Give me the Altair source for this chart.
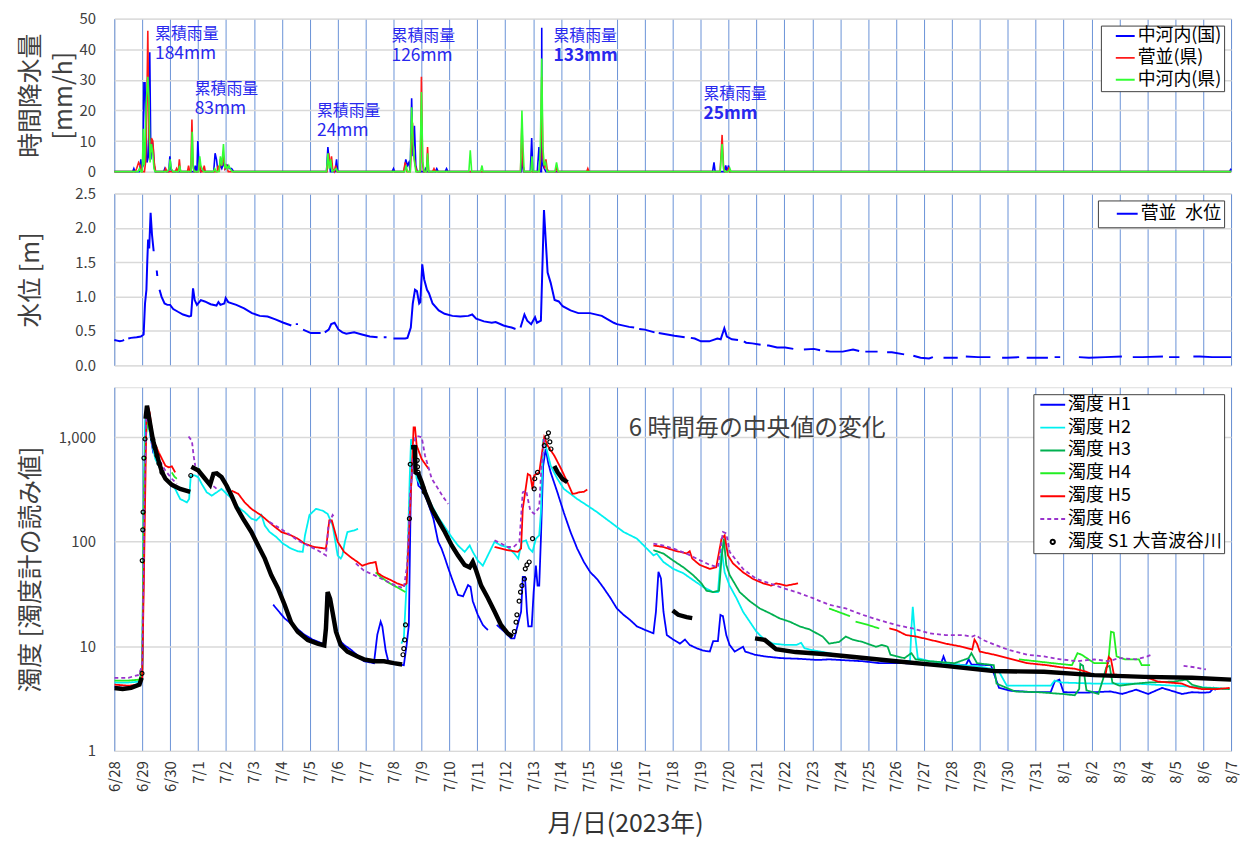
import altair as alt
import pandas as pd

FONT = "Noto Sans CJK JP"

DAY_LABELS = ["6/28", "6/29", "6/30",
              "7/1", "7/2", "7/3", "7/4", "7/5", "7/6", "7/7", "7/8", "7/9", "7/10",
              "7/11", "7/12", "7/13", "7/14", "7/15", "7/16", "7/17", "7/18", "7/19", "7/20",
              "7/21", "7/22", "7/23", "7/24", "7/25", "7/26", "7/27", "7/28", "7/29", "7/30", "7/31",
              "8/1", "8/2", "8/3", "8/4", "8/5", "8/6", "8/7"]
DAY_TICKS = list(range(len(DAY_LABELS)))

# ---------------- rainfall (t = days since 6/28 0:00, mm/h) ----------------
RAIN_NAMES = ["中河内(国)", "菅並(県)", "中河内(県)"]
RAIN_COLORS = ["#0000FF", "#FF1A1A", "#33FF33"]

RAIN_KUNI = [
    (0.00, 0), (0.66, 0), (0.70, 1), (0.74, 0), (0.90, 0), (0.95, 4), (0.99, 1), (1.03, 2),
    (1.06, 29), (1.10, 29), (1.13, 15), (1.17, 3), (1.22, 5), (1.27, 39), (1.31, 4), (1.35, 10),
    (1.39, 8), (1.43, 2), (1.47, 0), (1.77, 0), (1.81, 1), (1.85, 0), (1.95, 0), (1.99, 5),
    (2.03, 1), (2.08, 0), (2.86, 0), (2.90, 2), (2.94, 0), (2.96, 0), (2.99, 10), (3.03, 3),
    (3.06, 1), (3.10, 0), (3.20, 1), (3.25, 0), (3.56, 0), (3.61, 6), (3.66, 4), (3.70, 1),
    (3.75, 1), (3.80, 2), (3.85, 1), (3.92, 3), (3.97, 1), (4.05, 2), (4.12, 1), (4.20, 1),
    (4.28, 0), (7.60, 0), (7.65, 8), (7.70, 3), (7.74, 0), (7.91, 0), (7.96, 4), (8.00, 0),
    (9.95, 0), (10.00, 1), (10.04, 0), (10.38, 0), (10.44, 4), (10.50, 2), (10.55, 3),
    (10.60, 0), (10.65, 24), (10.70, 5), (10.75, 15), (10.80, 2), (10.85, 0), (11.10, 0),
    (11.15, 1), (11.20, 0), (11.50, 0), (11.55, 1), (11.60, 0), (11.85, 0), (11.90, 1),
    (11.95, 0), (14.58, 0), (14.62, 5), (14.66, 0), (14.90, 0), (14.95, 11), (14.99, 0),
    (15.15, 0), (15.21, 8), (15.26, 0), (15.30, 0), (15.31, 47), (15.32, 3), (15.40, 1),
    (15.46, 0), (21.43, 0), (21.48, 3), (21.52, 0), (21.85, 0), (21.90, 2), (21.95, 0),
    (22.00, 2), (22.04, 0), (39.95, 0), (40.00, 1)]

RAIN_SUGANAMI = [
    (0.00, 0), (0.75, 0), (0.80, 1), (0.87, 3), (0.93, 2), (0.98, 0), (1.08, 0), (1.12, 3),
    (1.16, 18), (1.20, 46), (1.24, 12), (1.28, 4), (1.33, 11), (1.38, 10), (1.43, 3), (1.48, 0),
    (1.80, 0), (1.84, 1), (1.88, 0), (2.18, 0), (2.23, 1), (2.27, 0), (2.29, 0), (2.33, 4),
    (2.37, 0), (2.62, 0), (2.66, 2), (2.70, 0), (2.74, 0), (2.78, 17), (2.82, 2), (2.86, 0),
    (3.02, 0), (3.06, 4), (3.10, 0), (3.18, 0), (3.22, 2), (3.26, 0), (3.68, 0), (3.72, 2),
    (3.76, 0), (3.80, 4), (3.85, 2), (3.91, 5), (3.96, 1), (4.02, 2), (4.08, 0), (7.62, 0),
    (7.68, 6), (7.72, 2), (7.78, 5), (7.82, 1), (7.88, 0), (7.93, 2), (7.97, 0), (10.36, 0),
    (10.42, 3), (10.48, 0), (10.60, 0), (10.68, 16), (10.72, 6), (10.78, 2), (10.84, 0),
    (10.96, 0), (11.00, 31), (11.04, 3), (11.08, 0), (11.18, 0), (11.22, 8), (11.26, 0),
    (11.40, 0), (11.45, 1), (11.50, 0), (14.55, 0), (14.60, 16), (14.64, 2), (14.68, 0),
    (15.22, 0), (15.27, 4), (15.31, 31), (15.35, 5), (15.42, 1), (15.46, 4), (15.50, 1),
    (15.55, 0), (15.80, 0), (15.84, 2), (15.88, 0), (16.92, 0), (16.96, 1), (17.00, 0),
    (21.70, 0), (21.77, 12), (21.82, 2), (21.86, 0), (21.96, 0), (22.00, 1), (22.04, 0),
    (40.00, 0)]

RAIN_KEN = [
    (0.00, 0), (0.85, 0), (0.90, 1), (0.95, 0), (1.00, 0), (1.04, 14), (1.07, 2), (1.10, 6),
    (1.14, 22), (1.20, 31), (1.24, 24), (1.28, 3), (1.33, 9), (1.38, 6), (1.42, 1), (1.46, 0),
    (1.90, 0), (1.96, 1), (2.00, 4), (2.04, 1), (2.10, 0), (2.30, 0), (2.34, 2), (2.38, 0),
    (2.74, 0), (2.79, 13), (2.83, 1), (2.87, 0), (3.02, 0), (3.06, 5), (3.10, 2), (3.14, 1),
    (3.20, 0), (3.55, 0), (3.60, 1), (3.65, 0), (3.75, 0), (3.80, 5), (3.85, 2), (3.91, 9),
    (3.96, 1), (4.00, 2), (4.05, 1), (4.10, 2), (4.15, 1), (4.22, 0), (7.60, 0), (7.65, 6),
    (7.70, 1), (7.75, 4), (7.80, 0), (7.95, 1), (7.99, 0), (10.40, 0), (10.45, 2), (10.50, 0),
    (10.60, 0), (10.65, 21), (10.70, 10), (10.74, 4), (10.80, 0), (10.95, 0), (11.00, 26),
    (11.05, 3), (11.10, 0), (11.18, 0), (11.22, 6), (11.26, 0), (12.70, 0), (12.75, 7),
    (12.80, 0), (13.12, 0), (13.17, 2), (13.21, 0), (14.55, 0), (14.60, 20), (14.64, 8),
    (14.68, 0), (14.92, 0), (14.96, 5), (15.00, 0), (15.22, 0), (15.26, 8), (15.31, 37),
    (15.35, 8), (15.40, 2), (15.45, 3), (15.50, 0), (15.78, 0), (15.84, 3), (15.90, 0),
    (21.70, 0), (21.77, 9), (21.82, 1), (21.86, 0), (22.00, 0), (22.05, 1), (22.09, 0),
    (40.00, 0)]

NOTE_HEAD = "累積雨量"
NOTE_T = [1.46, 2.88, 7.26, 9.93, 15.73, 21.10]
NOTE_V = [47.6, 29.5, 22.3, 47.0, 47.0, 27.8]
NOTE_AMOUNT = ["184mm", "83mm", "24mm", "126mm", "133mm", "25mm"]
NOTE_BOLD = [False, False, False, False, True, True]

# ---------------- water level (m) ----------------
WATER_NAME = "菅並\u2002水位"
WATER = [
    (0.00, 0.37), (0.10, 0.36), (0.20, 0.35), (0.30, 0.36), (0.35, 0.37), (0.42, None),
    (0.50, 0.39), (0.60, 0.40), (0.80, 0.41), (0.95, 0.42), (1.05, 0.45), (1.10, 0.90),
    (1.15, 1.10), (1.18, 1.50), (1.21, 1.83), (1.25, 1.70), (1.30, 2.22), (1.35, 1.90),
    (1.41, 1.66), (1.45, None), (1.52, 1.38), (1.54, 1.30), (1.57, None), (1.62, 1.10),
    (1.69, 1.00), (1.80, 0.90), (1.90, 0.88), (2.00, 0.88), (2.11, 0.82), (2.28, 0.78),
    (2.46, 0.74), (2.68, 0.71), (2.75, 0.72), (2.82, 1.12), (2.88, 0.95), (2.96, 0.88),
    (3.10, 0.95), (3.24, 0.93), (3.45, 0.89), (3.66, 0.87), (3.73, 0.92), (3.80, 0.88),
    (3.94, 0.90), (3.99, 0.98), (4.08, 0.92), (4.37, 0.88), (4.65, 0.83), (4.93, 0.76),
    (5.21, 0.72), (5.49, 0.71), (5.77, 0.67), (6.06, 0.62), (6.34, 0.58), (6.42, None),
    (6.50, 0.60), (6.58, 0.60), (6.65, None), (6.76, 0.52), (7.04, 0.47), (7.39, 0.47),
    (7.47, None), (7.54, 0.48), (7.68, 0.52), (7.77, 0.60), (7.89, 0.62), (8.03, 0.52),
    (8.17, 0.48), (8.31, 0.46), (8.59, 0.48), (8.87, 0.45), (9.15, 0.42), (9.43, 0.41),
    (9.55, None), (9.65, 0.41), (9.75, 0.41), (9.85, None), (10.00, 0.39), (10.42, 0.39),
    (10.50, 0.40), (10.62, 0.55), (10.69, 0.90), (10.77, 1.10), (10.84, 1.08), (10.92, 0.90),
    (10.96, 0.92), (11.03, 1.47), (11.10, 1.25), (11.20, 1.10), (11.27, 1.05), (11.40, 0.90),
    (11.62, 0.80), (11.83, 0.75), (12.11, 0.72), (12.39, 0.71), (12.68, 0.72), (12.82, 0.74),
    (12.96, 0.68), (13.24, 0.64), (13.52, 0.62), (13.66, 0.63), (13.94, 0.58), (14.23, 0.55),
    (14.37, 0.53), (14.45, None), (14.55, 0.55), (14.69, 0.74), (14.79, 0.65), (14.93, 0.60),
    (15.07, 0.70), (15.14, 0.62), (15.28, 0.65), (15.39, 2.26), (15.52, 1.35), (15.63, 1.20),
    (15.77, 0.95), (15.92, 0.93), (16.06, 0.86), (16.34, 0.80), (16.62, 0.76), (17.04, 0.76),
    (17.46, 0.72), (17.89, 0.62), (18.00, 0.60), (18.44, 0.56), (18.62, 0.55), (18.70, None),
    (18.80, 0.53), (19.00, 0.52), (19.35, 0.48), (19.42, None), (19.50, 0.47), (20.06, 0.43),
    (20.43, 0.41), (20.55, None), (20.65, 0.40), (20.79, 0.39), (21.01, 0.35), (21.31, 0.35),
    (21.60, 0.39), (21.72, 0.38), (21.85, 0.54), (21.94, 0.42), (22.12, 0.38), (22.34, 0.37),
    (22.45, None), (22.55, 0.35), (22.63, 0.33), (22.85, 0.32), (23.15, 0.30), (23.25, None),
    (23.38, 0.29), (23.44, 0.29), (23.74, 0.26), (24.03, 0.26), (24.32, 0.24), (24.55, None),
    (24.70, 0.23), (25.06, 0.24), (25.28, 0.22), (25.38, None), (25.48, 0.21), (25.65, 0.20),
    (26.09, 0.20), (26.46, 0.23), (26.68, 0.21), (26.80, None), (26.90, 0.20), (26.97, 0.20),
    (27.34, 0.20), (27.55, None), (27.68, 0.19), (27.85, 0.19), (28.29, 0.16), (28.50, None),
    (28.62, 0.14), (28.88, 0.11), (29.18, 0.10), (29.32, 0.12), (29.50, None), (29.70, 0.11),
    (29.76, 0.11), (30.21, 0.11), (30.38, None), (30.50, 0.13), (30.94, 0.12), (31.38, 0.12),
    (31.65, None), (31.80, 0.11), (31.97, 0.11), (32.41, 0.12), (32.55, None), (32.68, 0.11),
    (33.00, 0.11), (33.44, 0.11), (33.55, None), (33.68, 0.12), (33.88, 0.12), (34.40, None),
    (34.55, 0.12), (34.91, 0.11), (35.50, 0.12), (36.09, 0.13), (36.35, None), (36.48, 0.12),
    (36.82, 0.12), (37.56, 0.13), (37.65, None), (37.78, 0.12), (38.15, 0.12), (38.55, None),
    (38.65, 0.13), (38.88, 0.13), (39.32, 0.12), (39.91, 0.12), (40.00, 0.12)]

# ---------------- turbidity (6-hour medians) ----------------
TURB_NAMES = ["濁度 H1", "濁度 H2", "濁度 H3", "濁度 H4", "濁度 H5", "濁度 H6", "濁度 S1 大音波谷川"]
TURB_COLORS = ["#0000FF", "#00F0F0", "#00B050", "#22EE22", "#FF0000", "#9933CC", "#000000"]

H1 = [
    (0.00, 4.1), (0.30, 4.0), (0.60, 4.1), (0.90, 4.3), (1.00, 5.0), (1.05, 60), (1.10, 900),
    (1.15, 1600), (1.20, 1500), (1.30, 1000), (1.40, 700), (1.50, None),
    (5.69, 25), (6.10, 18.5), (6.45, 15.5), (6.81, 12.9), (7.10, 11.6), (7.46, 10.6), (7.55, 10.3),
    (7.60, 29.7), (7.70, 29), (7.82, 19.7), (8.00, 11.9), (8.23, 10.3), (8.47, 9.3), (8.71, 8.2),
    (8.94, 7.2), (9.30, 6.9), (9.42, 12.9), (9.54, 17.2), (9.60, 15.5), (9.72, 9.1), (9.83, 6.9),
    (10.13, 6.7), (10.37, 6.6), (10.47, 10.3), (10.55, 16), (10.62, 300), (10.70, 700),
    (10.80, 500), (10.89, 344), (11.01, 320), (11.20, 250), (11.43, 166), (11.60, 100),
    (11.72, 86), (11.84, 70), (11.96, 56), (12.14, 41), (12.31, 31), (12.49, 30), (12.67, 38.5),
    (12.76, 37), (12.84, 27), (13.02, 20), (13.20, 16), (13.38, 14.3), (13.50, None),
    (13.70, 16), (13.97, 13.8), (14.21, 11.9), (14.33, 11.9), (14.45, 16), (14.57, 21.4),
    (14.63, 46), (14.71, 46), (14.78, 21.4), (14.83, 15.5), (14.95, 15.5), (15.02, 33),
    (15.10, 59), (15.16, 38), (15.22, 38), (15.28, 107), (15.36, 530), (15.45, 770),
    (15.54, 570), (15.63, 460), (15.87, 297), (16.10, 190), (16.34, 124), (16.58, 86),
    (16.82, 64), (17.05, 51), (17.29, 44), (17.53, 36), (17.77, 29), (18.00, 23), (18.24, 20),
    (18.48, 17.8), (18.72, 15.5), (19.02, 14.3), (19.31, 13.3), (19.40, 21.4), (19.49, 51.5),
    (19.58, 44.5), (19.67, 21.4), (19.79, 12.8), (20.02, 11.6), (20.26, 10.6), (20.44, 11.6),
    (20.61, 10.3), (20.85, 9.6), (21.09, 9.1), (21.33, 8.9), (21.45, 11.2), (21.62, 11.2),
    (21.71, 20), (21.80, 19.4), (21.92, 12.8), (22.04, 10.3), (22.22, 8.9), (22.52, 9.9),
    (22.60, 8.9), (22.95, 8.3), (23.30, 8.0), (23.90, 7.7), (24.50, 7.6), (25.20, 7.4),
    (25.60, 7.5), (26.80, 7.2), (27.40, 6.9), (28.30, 6.9), (29.10, 6.7), (29.60, 6.7),
    (29.70, 8.0), (29.80, 6.8), (30.50, 6.6), (30.60, 7.5), (30.70, 6.7), (31.40, 6.6),
    (31.62, 4.5), (31.69, 4.0), (32.10, 3.76), (32.97, 3.64), (33.54, 3.64), (33.68, 4.58),
    (33.85, 4.8), (34.00, 3.64), (34.82, 3.6), (35.10, 3.64), (35.68, 3.7), (36.10, 3.5),
    (36.60, 3.85), (37.03, 3.5), (37.53, 4.0), (37.95, 3.7), (38.24, 3.5), (38.60, 3.64),
    (39.02, 3.6), (39.24, 3.64), (39.38, 4.0), (39.45, 3.8)]

H2 = [
    (0.00, 4.5), (0.50, 4.5), (0.90, 4.6), (1.00, 6), (1.05, 200), (1.10, 1400), (1.12, 1660),
    (1.20, 1500), (1.30, 1000), (1.47, 617), (1.71, 460), (1.95, 370), (2.18, 320), (2.36, 256),
    (2.60, 238), (2.68, 256), (2.74, 430), (2.89, 430), (3.01, 413), (3.13, 357), (3.31, 297),
    (3.49, 276), (3.67, 297), (3.84, 320), (4.02, 287), (4.20, 260), (4.44, 213), (4.67, 192),
    (4.91, 166), (5.09, 160), (5.27, 180), (5.39, 143), (5.56, 124), (5.80, 111), (6.04, 96),
    (6.33, 86), (6.57, 81), (6.75, 80), (6.83, 115), (6.99, 180), (7.22, 206), (7.46, 198),
    (7.64, 185), (7.82, 143), (7.90, 107), (8.00, 74), (8.11, 69), (8.17, 74), (8.26, 100),
    (8.35, 124), (8.59, 128), (8.73, 133), (8.80, None),
    (10.28, 10.6), (10.37, 11.9), (10.49, 51), (10.58, 400), (10.63, 960), (10.71, 740),
    (10.83, 400), (10.95, 357), (11.13, 297), (11.37, 222), (11.60, 172), (11.84, 138),
    (12.08, 111), (12.31, 92), (12.55, 80), (12.73, 92), (12.84, 80), (13.02, 66), (13.20, 59),
    (13.38, 74), (13.62, 100), (13.85, 92), (14.09, 89), (14.33, 77), (14.47, 69), (14.59, 100),
    (14.75, 103), (14.86, 86), (14.98, 80), (15.10, 107), (15.22, 115), (15.28, 190),
    (15.36, 960), (15.45, 830), (15.63, 533), (15.87, 400), (16.10, 320), (16.34, 287),
    (16.58, 256), (16.94, 222), (17.29, 192), (17.77, 154), (18.24, 124), (18.72, 107),
    (19.19, 80), (19.31, 74), (19.43, 77), (19.67, 64), (20.02, 55), (20.38, 50), (20.73, 43),
    (21.09, 37), (21.45, 33), (21.62, 33), (21.75, 86), (21.86, 51), (22.04, 38), (22.28, 29),
    (22.52, 21.4), (22.76, 17.2), (23.00, 13.8), (23.24, 11.9), (23.59, 10.6), (24.07, 10.3),
    (24.43, 10.3), (24.60, 10.8), (24.72, 9.6), (24.90, 9.3), (25.60, 8.6), (26.20, 8.0),
    (26.80, 7.7), (27.40, 7.5), (28.00, 7.2), (28.50, 7.2), (28.55, 14.8), (28.60, 23.8),
    (28.67, 13.8), (28.78, 7.7), (29.20, 7.2), (29.80, 6.9), (30.40, 6.6), (31.00, 6.4),
    (31.40, 6.1), (31.69, 5.7), (31.97, 4.2), (32.97, 4.2), (33.54, 4.2), (33.68, 4.7),
    (33.97, 4.5), (35.10, 4.4), (36.53, 4.4), (37.95, 4.2), (38.67, 4.1), (39.38, 4.0),
    (39.95, 3.9)]

H3 = [
    (19.31, 83), (19.67, 77), (20.02, 66), (20.38, 57), (20.73, 48), (21.03, 40), (21.21, 34),
    (21.45, 33), (21.66, 34), (21.75, 69), (21.83, 107), (21.92, 60), (22.04, 48), (22.40, 33),
    (22.76, 27), (23.12, 23), (23.48, 20.7), (23.83, 18.5), (24.19, 17.2), (24.55, 15.5),
    (24.90, 14.5), (25.37, 12.4), (25.60, 10.6), (25.96, 11), (26.20, 12.4), (26.44, 11.6),
    (26.80, 11.0), (27.28, 9.9), (27.50, 10.3), (27.70, 9.9), (27.80, 8.3), (28.30, 7.7),
    (28.55, 8.6), (28.70, 7.5), (29.20, 7.2), (30.10, 6.9), (30.60, 7.7), (30.70, 8.6),
    (30.90, 6.9), (31.50, 6.6), (31.60, 4.4), (32.26, 3.7), (33.10, 3.64), (33.97, 3.5),
    (34.40, 3.4), (34.56, 3.9), (34.60, 6.8), (34.70, 6.5), (34.82, 3.8), (35.25, 3.5),
    (35.42, 4.9), (35.53, 6.3), (35.65, 6.5), (35.75, 4.5), (36.00, 4.2), (36.30, 4.3),
    (36.60, 4.4), (37.00, 4.5), (37.95, 4.6), (38.40, 4.8), (38.60, 4.3), (39.00, 4.0),
    (39.95, 3.9)]

H4 = [
    (0.00, 4.7), (0.50, 4.7), (0.90, 4.8), (1.00, 6), (1.06, 300), (1.12, 1000), (1.20, 1380),
    (1.30, 1100), (1.45, None),
    (2.06, 460), (2.15, 420), (2.24, 400), (2.30, None),
    (3.00, 480), (3.07, 500), (3.12, None),
    (9.36, 51), (9.50, 47), (9.80, 41), (10.10, 37), (10.43, 33), (10.50, None),
    (25.60, 23), (25.90, 21.5), (26.35, 19.4), (26.45, None), (26.55, 17.2), (27.00, 16),
    (27.40, 14.8), (27.50, None),
    (32.40, 7.5), (33.00, 7.2), (33.60, 6.9), (34.30, 6.6), (34.50, 8.6), (34.65, 8.3),
    (35.10, 6.9), (35.60, 6.9), (35.70, 13.8), (35.80, 13.5), (35.90, 8.0), (36.20, 7.5),
    (36.70, 7.5), (36.80, 6.6), (37.10, 6.6)]

H5 = [
    (0.00, 4.3), (0.50, 4.2), (0.90, 4.3), (1.00, 5), (1.08, 100), (1.15, 1500), (1.21, 1950),
    (1.27, 1700), (1.38, 960), (1.59, 715), (1.83, 533), (1.95, 514), (2.06, 525), (2.18, 460),
    (2.22, None),
    (4.20, 308), (4.44, 287), (4.67, 238), (4.91, 206), (5.27, 178), (5.62, 148), (5.98, 124),
    (6.33, 115), (6.57, 107), (6.81, 96), (7.16, 89), (7.58, 86), (7.64, 115), (7.70, 160),
    (7.79, 160), (8.00, 100), (8.23, 80), (8.47, 71), (8.71, 64), (8.88, 59), (9.12, 62),
    (9.36, 64), (9.44, 50), (9.66, 46), (9.90, 43), (10.13, 40), (10.37, 38), (10.47, 40),
    (10.55, 115), (10.66, 500), (10.72, 1240), (10.77, 1240), (10.83, 830), (11.01, 617),
    (11.25, 500), (11.30, None),
    (13.62, 89), (14.09, 83), (14.45, 80), (14.57, 86), (14.63, 206), (14.81, 444), (14.90, 430),
    (14.98, 320), (15.04, 430), (15.22, 460), (15.34, 770), (15.40, 1000), (15.52, 830),
    (15.76, 665), (16.00, 500), (16.23, 370), (16.41, 287), (16.53, 290), (16.64, 297),
    (16.82, 300), (16.94, 315), (17.00, None),
    (19.31, 92), (19.67, 89), (20.02, 83), (20.50, 77), (20.61, 81), (20.70, 69), (20.97, 60),
    (21.33, 55), (21.56, 57), (21.75, 107), (21.86, 115), (21.98, 74), (22.16, 62), (22.52, 51),
    (22.88, 44), (23.24, 40), (23.53, 38), (23.71, 40), (24.07, 38), (24.49, 40), (24.55, None),
    (27.76, 14.8), (28.00, 14.3), (28.36, 12.8), (28.71, 12.4), (29.19, 11.6), (29.78, 10.6),
    (30.37, 9.9), (30.73, 9.3), (30.81, 11.6), (30.90, 10.6), (31.00, 8.9), (31.53, 8.3),
    (32.00, 7.7), (32.70, 6.9), (33.40, 6.6), (33.90, 6.3), (34.40, 6.1), (34.82, 5.7),
    (35.10, 5.3), (35.50, 5.3), (35.62, 7.9), (35.70, 7.5), (35.80, 5.4), (35.96, 5.3),
    (36.53, 5.2), (37.10, 4.9), (37.38, 4.6), (38.24, 4.4), (38.52, 4.1), (38.95, 3.9),
    (39.50, 3.9), (39.95, 4.0)]

H6 = [
    (0.00, 5.0), (0.50, 5.0), (0.85, 5.3), (0.95, 6), (1.00, 7), (1.08, 300), (1.15, 1700),
    (1.22, 1900), (1.35, 860), (1.59, 617), (1.83, 478), (2.06, 400), (2.24, 357), (2.30, None),
    (2.66, 1015), (2.78, 920), (2.84, 665), (2.90, 530), (2.95, None),
    (3.55, 340), (3.67, 320), (3.70, None),
    (5.56, 154), (5.86, 138), (6.22, 120), (6.57, 103), (6.93, 92), (7.28, 83), (7.58, 74),
    (7.67, 143), (7.82, 180), (7.90, 170), (7.95, None),
    (8.65, 62), (8.94, 53), (9.30, 48), (9.66, 43), (10.07, 38), (10.37, 36), (10.49, 60),
    (10.60, 300), (10.78, 990), (10.83, 1030), (11.01, 1000), (11.13, 665), (11.37, 400),
    (11.60, 320), (11.78, 267), (11.96, 230), (12.00, None),
    (13.62, 103), (13.85, 96), (14.09, 89), (14.30, 89), (14.51, 100), (14.63, 297),
    (14.75, 308), (14.90, 198), (15.04, 185), (15.22, 213), (15.30, 533), (15.40, 960),
    (15.50, None),
    (19.31, 96), (19.67, 92), (20.02, 86), (20.50, 77), (20.85, 69), (21.33, 60), (21.62, 57),
    (21.80, 124), (21.92, 120), (22.04, 80), (22.52, 55), (23.00, 44), (23.48, 40), (23.95, 36),
    (24.43, 33), (25.00, 29), (25.60, 25), (26.20, 23), (26.80, 20), (27.40, 17.8), (28.00, 16),
    (28.60, 14.8), (29.20, 13.3), (29.78, 12.8), (30.37, 12.8), (30.73, 12.4), (30.85, 12.8),
    (31.08, 11.6), (31.56, 10.3), (32.00, 9.3), (32.70, 8.3), (33.30, 8.0), (33.90, 7.5),
    (34.50, 7.2), (35.10, 7.5), (35.60, 7.2), (36.00, 7.7), (36.60, 7.5), (37.00, 8.0),
    (37.20, 8.4), (37.30, None),
    (38.30, 6.5), (38.70, 6.3), (39.10, 6.0)]

S1_LINE = [
    (0.00, 4.0), (0.30, 3.9), (0.60, 4.0), (0.90, 4.3), (0.98, 5.0), (0.99, None),
    (1.12, 1500), (1.17, 2000), (1.25, 1500), (1.38, 950), (1.53, 665), (1.71, 460), (1.83, 400),
    (2.06, 350), (2.36, 320), (2.72, 300), (2.74, None),
    (2.76, 520), (3.01, 480), (3.25, 400), (3.43, 350), (3.55, 445), (3.67, 450), (3.84, 415),
    (4.02, 345), (4.20, 275), (4.38, 213), (4.61, 166), (4.91, 124), (5.15, 92), (5.39, 69),
    (5.62, 48), (5.86, 36), (6.10, 25), (6.33, 17), (6.57, 13.8), (6.93, 11.5), (7.28, 10.6),
    (7.52, 10.2), (7.58, 14.8), (7.64, 33), (7.73, 28.5), (7.82, 21), (7.94, 13.8), (8.11, 10.3),
    (8.35, 8.9), (8.71, 8.0), (8.94, 7.5), (9.30, 7.2), (9.66, 7.2), (10.01, 6.9), (10.31, 6.7),
    (10.34, None),
    (10.63, 800), (10.77, 800), (10.79, 460), (10.89, 445), (11.01, 370), (11.13, 297),
    (11.37, 206), (11.60, 160), (11.84, 124), (12.08, 92.5), (12.31, 74), (12.55, 60),
    (12.73, 57), (12.84, 64), (12.96, 53), (13.14, 38), (13.38, 29), (13.62, 21.5), (13.85, 16),
    (14.09, 13.3), (14.27, 12.4), (14.30, None),
    (15.76, 530), (15.88, 460), (16.05, 400), (16.23, 370), (16.30, None),
    (20.00, 22), (20.20, 20), (20.50, 19), (20.70, 18.6), (20.80, None),
    (22.95, 11.9), (23.30, 11.5), (23.70, 9.4), (24.40, 8.8), (25.50, 8.4), (26.50, 7.9),
    (28.00, 7.2), (29.75, 6.5), (31.50, 5.8), (33.30, 5.7), (35.10, 5.3), (36.90, 5.1),
    (38.60, 5.0), (40.00, 4.8)]

S1_CIRCLES = [
    (0.99, 5.5), (1.00, 66), (1.02, 130), (1.03, 192), (1.06, 630), (1.10, 960), (1.38, 950),
    (1.45, 800), (1.53, 665), (1.60, 560), (1.71, 460), (2.74, 430),
    (10.34, 8.3), (10.37, 9.5), (10.40, 11.5), (10.43, 16), (10.57, 166), (10.60, 550),
    (10.85, 600), (10.86, 520), (10.88, 460), (11.05, 330), (11.10, 300),
    (14.33, 13.8), (14.39, 17), (14.42, 20), (14.50, 27), (14.55, 33), (14.60, 38), (14.69, 44),
    (14.72, 55), (14.78, 60), (14.86, 64), (14.98, 107), (15.04, 320), (15.06, 400),
    (15.16, 460), (15.40, 830), (15.50, 1000), (15.55, 1100), (15.60, 900), (15.64, 770)]

TURB_NOTE = "6 時間毎の中央値の変化"
TURB_NOTE_T = [18.43]
TURB_NOTE_V = [1190]


def rows(name, pts):
    return [{"name": name, "t": t, "v": v} for t, v in pts]


rain_df = pd.DataFrame(rows(RAIN_NAMES[0], RAIN_KUNI) + rows(RAIN_NAMES[1], RAIN_SUGANAMI)
                       + rows(RAIN_NAMES[2], RAIN_KEN))
rain_df["k"] = rain_df["name"].map({n: i for i, n in enumerate(RAIN_NAMES)})
notes_df = pd.DataFrame({"t": NOTE_T, "v": NOTE_V, "head": [NOTE_HEAD] * len(NOTE_T),
                         "amount": NOTE_AMOUNT, "bold": NOTE_BOLD})
water_df = pd.DataFrame(rows(WATER_NAME, WATER))
h_df = pd.DataFrame(rows(TURB_NAMES[0], H1) + rows(TURB_NAMES[1], H2) + rows(TURB_NAMES[2], H3)
                    + rows(TURB_NAMES[3], H4) + rows(TURB_NAMES[4], H5) + rows(TURB_NAMES[5], H6))
s1_line_df = pd.DataFrame(rows(TURB_NAMES[6], S1_LINE))
s1_pts_df = pd.DataFrame(rows(TURB_NAMES[6], S1_CIRCLES))
tnote_df = pd.DataFrame({"t": TURB_NOTE_T, "v": TURB_NOTE_V, "txt": [TURB_NOTE]})

W = 1124
GRID_V = "#4F7FD0"
GRID_H = "#D9D9D9"
LABEL_C = "#404040"
NOTE_C = "#2828EE"
INVALID = "break-paths-show-domains"

x_scale = alt.Scale(domain=[0, 40], nice=False, zero=False)
label_expr = "[" + ",".join("'%s'" % s for s in DAY_LABELS) + "][round(datum.value)]"

x_hidden = alt.Axis(values=DAY_TICKS, labels=False, ticks=False, domain=False, grid=True,
                    gridColor=GRID_V, gridWidth=1, gridOpacity=0.85, title=None)
x_shown = alt.Axis(values=DAY_TICKS, labelExpr=label_expr, labelAngle=-90, labelFontSize=15,
                   labelColor="#333333", labelFont=FONT, labelPadding=10, labelOverlap=False,
                   ticks=False, domain=False, grid=True, gridColor=GRID_V, gridWidth=1,
                   gridOpacity=0.85, title="月/日(2023年)", titleFont=FONT, titleFontSize=25,
                   titleFontWeight="normal", titleColor="#333333", titleX=514, titleY=73,
                   titleAlign="center", titleBaseline="middle")


def y_axis(title, values, fmt=None, lh=None):
    kw = dict(values=values, grid=True, gridColor=GRID_H, gridWidth=1.5, ticks=False,
              domain=False, labelFontSize=15, labelColor=LABEL_C, labelFont=FONT,
              labelPadding=19, labelOverlap=False, title=title, titleFont=FONT,
              titleFontSize=25, titleFontWeight="normal", titleColor=LABEL_C, titleX=-96,
              titleBaseline="top")
    if fmt:
        kw["format"] = fmt
    if lh:
        kw["titleLineHeight"] = lh
    return alt.Axis(**kw)


def legend(pad, clip, rowpad, ssize, soff, loff, **kw):
    return alt.Legend(title=None, orient="top-right", offset=7, fillColor="white",
                      strokeColor="#404040", padding=pad, labelFont=FONT, labelFontSize=18,
                      labelColor="#000000", symbolStrokeWidth=2, symbolSize=ssize,
                      symbolOffset=soff, labelOffset=loff, rowPadding=rowpad, clipHeight=clip,
                      labelLimit=400, **kw)


# ---------------- top: rainfall ----------------
x_top = alt.X("t:Q", scale=x_scale, axis=x_hidden)
y_top = alt.Y("v:Q", scale=alt.Scale(domain=[0, 50], nice=False),
              axis=y_axis(["時間降水量", "[mm/h]"], [0, 10, 20, 30, 40, 50], lh=33))
rain_lines = alt.Chart(rain_df).mark_line(strokeWidth=1.6).encode(
    x=x_top, y=y_top,
    color=alt.Color("name:N", scale=alt.Scale(domain=RAIN_NAMES, range=RAIN_COLORS),
                    legend=legend(2, 17, 3, 361, 12, 2, symbolType="stroke",
                                  labelExpr="datum.label + '\u2002'")),
    order=alt.Order("k:Q"),
)
note_head = alt.Chart(notes_df).mark_text(align="left", baseline="top", fontSize=16,
                                          font=FONT, color=NOTE_C).encode(
    x=x_top, y=y_top, text="head:N")
note_amt = alt.Chart(notes_df).transform_filter("!datum.bold").mark_text(
    align="left", baseline="top", fontSize=17.5, font=FONT, color=NOTE_C, dy=19).encode(
    x=x_top, y=y_top, text="amount:N")
note_amt_b = alt.Chart(notes_df).transform_filter("datum.bold").mark_text(
    align="left", baseline="top", fontSize=17.5, font=FONT, color=NOTE_C, dy=19,
    fontWeight="bold").encode(x=x_top, y=y_top, text="amount:N")
top = alt.layer(rain_lines, note_head, note_amt, note_amt_b).properties(width=W, height=154)

# ---------------- middle: water level ----------------
mid = alt.Chart(water_df).mark_line(strokeWidth=2, invalid=INVALID).encode(
    x=alt.X("t:Q", scale=x_scale, axis=x_hidden),
    y=alt.Y("v:Q", scale=alt.Scale(domain=[0, 2.5], nice=False),
            axis=y_axis("水位 [m]", [0, 0.5, 1.0, 1.5, 2.0, 2.5], fmt=".1f")),
    color=alt.Color("name:N", scale=alt.Scale(domain=[WATER_NAME], range=["#0000FF"]),
                    legend=legend(3, 21, 2, 441, 15, 2, symbolType="stroke",
                                  labelExpr="datum.label + '\u2002'")),
).properties(width=W, height=173)

# ---------------- bottom: turbidity ----------------
CIRCLE_PATH = "M-0.17,0A0.17,0.17,0,1,1,0.17,0A0.17,0.17,0,1,1,-0.17,0Z"
turb_legend = legend(
    2, 17.3, 4, 625, 4, 2,
    symbolType=alt.ExprRef(expr="datum.value == '%s' ? '%s' : 'stroke'" % (TURB_NAMES[6], CIRCLE_PATH)),
    symbolDash=alt.ExprRef(expr="datum.value == '%s' ? [4, 3] : [1, 0]" % TURB_NAMES[5]),
    symbolFillColor="white")
turb_color = alt.Scale(domain=TURB_NAMES, range=TURB_COLORS)
x_bot = alt.X("t:Q", scale=x_scale, axis=x_shown)
y_bot = alt.Y("v:Q", scale=alt.Scale(type="log", domain=[1, 3000], nice=False),
              axis=y_axis("濁度 [濁度計の読み値]", [1, 10, 100, 1000], fmt=","))
c_bot = alt.Color("name:N", scale=turb_color, legend=turb_legend)

h_lines = alt.Chart(h_df).mark_line(strokeWidth=1.8, invalid=INVALID, clip=True).encode(
    x=x_bot, y=y_bot, color=c_bot,
    strokeDash=alt.StrokeDash("name:N", scale=alt.Scale(
        domain=TURB_NAMES[:6], range=[[1, 0], [1, 0], [1, 0], [1, 0], [1, 0], [4, 3]]),
        legend=None),
)
s1_line = alt.Chart(s1_line_df).mark_line(strokeWidth=4.5, invalid=INVALID, clip=True).encode(
    x=x_bot, y=y_bot, color=c_bot)
s1_pts = alt.Chart(s1_pts_df).mark_point(shape="circle", size=16, filled=False, strokeWidth=1.2,
                                         opacity=1, clip=True).encode(
    x=x_bot, y=y_bot, color=c_bot)
t_note = alt.Chart(tnote_df).mark_text(align="left", baseline="middle", fontSize=24, font=FONT,
                                       color="#404040").encode(x=x_bot, y=y_bot, text="txt:N")
bot = alt.layer(h_lines, s1_line, s1_pts, t_note).properties(width=W, height=366)

chart = alt.vconcat(top, mid, bot, spacing=22, bounds="flush").resolve_scale(
    color="independent", strokeDash="independent"
).properties(
    padding={"left": 10, "top": 0, "right": 0, "bottom": 0}
).configure_view(stroke="#7F7F7F", strokeWidth=1.5).configure(font=FONT)

chart.save("out.html", embed_options={"renderer": "svg", "actions": False})
